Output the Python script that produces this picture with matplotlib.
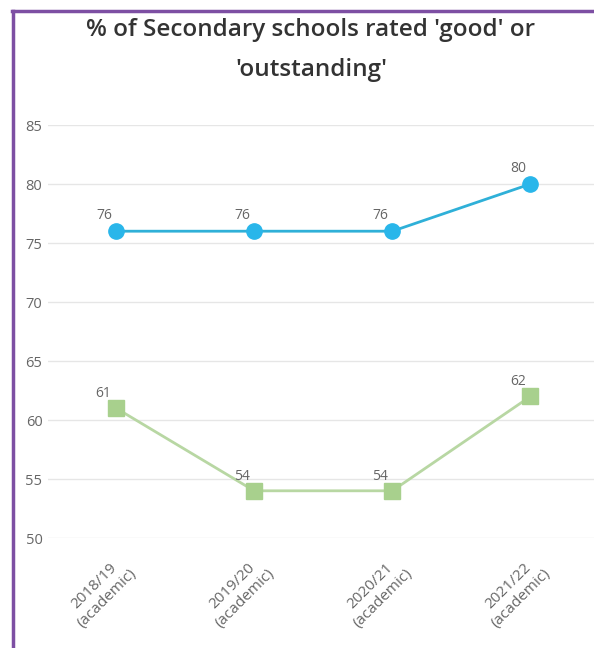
import matplotlib.pyplot as plt
from matplotlib.lines import Line2D
from matplotlib.transforms import ScaledTranslation

years = ['2018/19\n(academic)', '2019/20\n(academic)', '2020/21\n(academic)', '2021/22\n(academic)']
series_blue = [76, 76, 76, 80]
series_green = [61, 54, 54, 62]
y_ticks = [50, 55, 60, 65, 70, 75, 80, 85]

plt.rcParams['font.family'] = ['Open Sans', 'DejaVu Sans']

fig = plt.figure(figsize=(5.94, 6.48), dpi=100)
ax = fig.add_axes([48 / 594, (648 - 538) / 648, 546 / 594, 413 / 648])

x = list(range(len(years)))

# lines with markers
ax.plot(x, series_blue, color='#2fb0d8', lw=2, marker='o', markersize=11,
        markerfacecolor='#29b6ea', markeredgecolor='#29b6ea', clip_on=False, zorder=3)
ax.plot(x, series_green, color='#b8d7a3', lw=2, marker='s', markersize=11,
        markerfacecolor='#a8d08d', markeredgecolor='#a8d08d', clip_on=False, zorder=3)

# value labels (sit up and to the left of each point)
for xi, v in zip(x, series_blue):
    ax.annotate(str(v), (xi, v), xytext=(-8.5, 11), textcoords='offset points',
                ha='center', va='center', fontsize=10, color='#666666')
for xi, v in zip(x, series_green):
    ax.annotate(str(v), (xi, v), xytext=(-9, 10.5), textcoords='offset points',
                ha='center', va='center', fontsize=10, color='#666666')

ax.set_xlim(-0.493, 3.46)
ax.set_ylim(50, 85)
ax.set_yticks(y_ticks)
ax.set_xticks(x)
ax.set_xticklabels(years, rotation=45, ha='right', va='top', rotation_mode='anchor',
                   multialignment='center', fontsize=11, color='#666666')
shift = ScaledTranslation(8 / 100, 0, fig.dpi_scale_trans)
for lab in ax.get_xticklabels():
    lab.set_transform(lab.get_transform() + shift)
ax.tick_params(axis='y', length=0, pad=4, labelsize=10.5, labelcolor='#666666')
ax.tick_params(axis='x', length=0, pad=11)
ax.grid(axis='y', color='#e6e6e6', lw=1)
ax.set_axisbelow(True)
for s in ax.spines.values():
    s.set_visible(False)

# title
fig.text(311 / 594, 1 - 30 / 648, "% of Secondary schools rated 'good' or",
         ha='center', va='center', fontsize=17.5, fontweight='semibold', color='#333333')
fig.text(311 / 594, 1 - 70 / 648, "'outstanding'",
         ha='center', va='center', fontsize=17.5, fontweight='semibold', color='#333333')

# purple frame (left and top)
fig.add_artist(Line2D([13 / 594, 13 / 594], [0, 1 - 11 / 648], color='#7d4fa3', lw=2.5,
                      transform=fig.transFigure))
fig.add_artist(Line2D([12 / 594, 1], [1 - 11 / 648, 1 - 11 / 648], color='#7d4fa3', lw=2.5,
                      transform=fig.transFigure))

fig.savefig('out.png', dpi=100)
